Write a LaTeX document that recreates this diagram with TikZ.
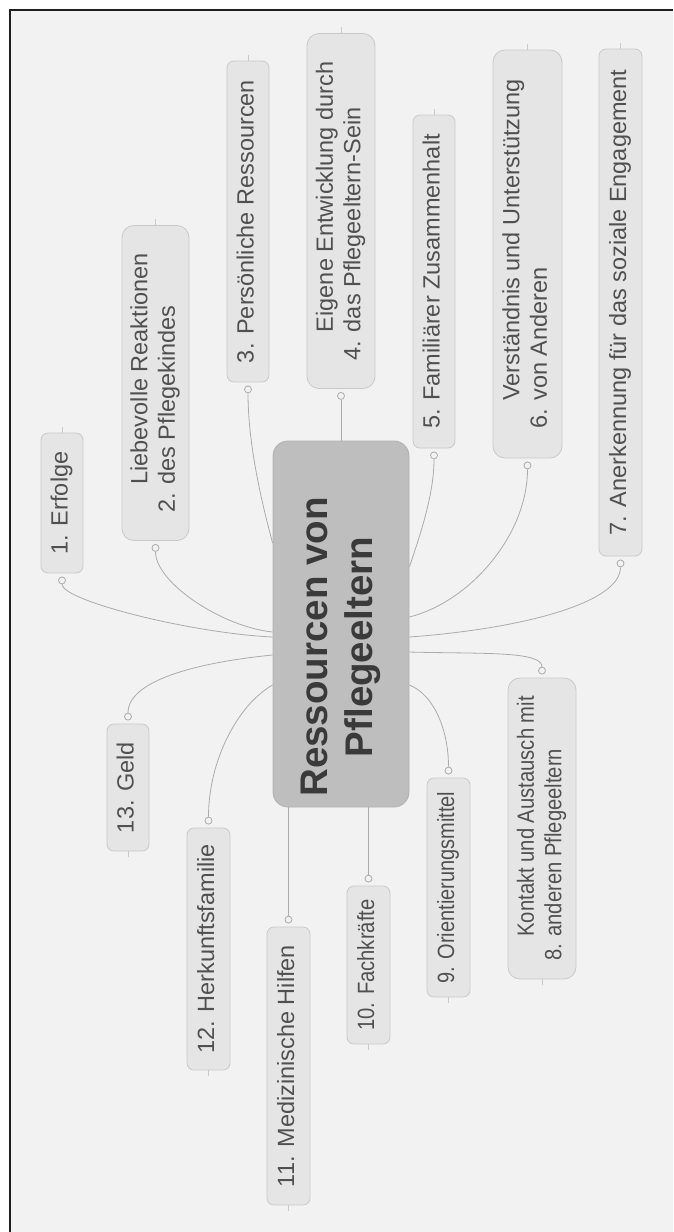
\documentclass[tikz,border=0pt]{standalone}
\usepackage{fontspec}
\setmainfont{Liberation Sans}
\usepackage{graphicx}
\usetikzlibrary{calc}

\definecolor{pagebg}{HTML}{F2F2F2}
\definecolor{leaffill}{HTML}{E5E5E5}
\definecolor{leafline}{HTML}{C9C9C9}
\definecolor{hubfill}{HTML}{BEBEBE}
\definecolor{hubline}{HTML}{B0B0B0}
\definecolor{linkgray}{HTML}{ABABAB}
\definecolor{leaftext}{HTML}{505050}
\definecolor{hubtext}{HTML}{3A3A3A}

% text set upright, reading from bottom to top (optional horizontal squeeze)
\newcommand{\turnedlabel}[2][1]{\rotatebox{90}{\scalebox{#1}[1]{\begin{tabular}{@{}c@{}}#2\end{tabular}}}}
% two-line label whose second line carries a hanging number
\newcommand{\turnedhang}[4][1]{\rotatebox{90}{\scalebox{#1}[1]{\begin{tabular}{@{}l@{}}\hphantom{#3 }#2\\#3 #4\end{tabular}}}}

\pgfdeclarelayer{paper}
\pgfdeclarelayer{links}
\pgfsetlayers{paper,links,main}

\tikzset{
  leaf/.style={draw=leafline, fill=leaffill, line width=0.8pt, rounded corners=7pt,
    inner sep=0pt, text=leaftext, font=\fontsize{23.5}{27.5}\selectfont},
  leafwide/.style={leaf, rounded corners=12pt},
  hub/.style={draw=hubline, fill=hubfill, line width=0.8pt, rounded corners=15pt,
    inner sep=0pt, text=hubtext, font=\fontsize{38.5}{45}\selectfont\bfseries,
    minimum width=136pt, minimum height=366pt},
  dot/.style={circle, draw=linkgray, fill=pagebg, line width=0.8pt,
    minimum size=7pt, inner sep=0pt},
  link/.style={draw=linkgray, line width=0.8pt},
  tick/.style={draw=leafline, line width=0.6pt}
}

\begin{document}
\begin{tikzpicture}[x=1pt, y=-1pt]
\useasboundingbox (0,0) rectangle (673,1232);

% paper and frame
\begin{pgfonlayer}{paper}
  \fill[white] (0,0) rectangle (673,1232);
  \fill[pagebg] (9.5,9.5) rectangle (673,1232);
  \draw[line width=2pt, black!88] (9.5,1232) -- (9.5,9.5) -- (673,9.5);
\end{pgfonlayer}

% central topic
\node[hub] (c) at (341,624) {\turnedlabel{Ressourcen von\hspace*{46pt}\\Pflegeeltern\hspace*{46pt}}};

% branches above the centre
\node[leaf, minimum width=42pt, minimum height=140pt] (n1) at (62,503) {\turnedlabel{1. Erfolge}};
\node[leafwide, minimum width=67pt, minimum height=315pt] (n2) at (155.5,383) {\turnedhang{Liebevolle Reaktionen}{2.}{des Pflegekindes}};
\node[leaf, minimum width=42pt, minimum height=321pt] (n3) at (248,221.5) {\turnedlabel{3. Persönliche Ressourcen}};
\node[leafwide, minimum width=68pt, minimum height=355pt] (n4) at (341,211) {\turnedhang{Eigene Entwicklung durch}{4.}{das Pflegeeltern-Sein}};
\node[leaf, minimum width=42pt, minimum height=333pt] (n5) at (434,281.5) {\turnedlabel{5. Familiärer Zusammenhalt}};
\node[leafwide, minimum width=69pt, minimum height=408pt] (n6) at (527.5,254) {\turnedhang{Verständnis und Unterstützung}{6.}{von Anderen}};
\node[leaf, minimum width=43pt, minimum height=507pt] (n7) at (620.5,302.5) {\turnedlabel{7. Anerkennung für das soziale Engagement}};

% branches below the centre
\node[leafwide, minimum width=68pt, minimum height=301pt] (n8) at (542,828.5) {\turnedhang[0.86]{Kontakt und Austausch mit}{8.}{anderen Pflegeeltern}};
\node[leaf, minimum width=43pt, minimum height=219pt] (n9) at (448.5,887.5) {\turnedlabel[0.85]{9. Orientierungsmittel}};
\node[leaf, minimum width=43pt, minimum height=158pt] (n10) at (368.5,965) {\turnedlabel[0.86]{10. Fachkräfte}};
\node[leaf, minimum width=43pt, minimum height=278pt] (n11) at (288.5,1066) {\turnedlabel{11. Medizinische Hilfen}};
\node[leaf, minimum width=43pt, minimum height=242pt] (n12) at (208.5,949) {\turnedlabel{12. Herkunftsfamilie}};
\node[leaf, minimum width=42pt, minimum height=127pt] (n13) at (128,787.5) {\turnedlabel{13. Geld}};

% attachment handles
\foreach \k in {1,...,7} {
  \node[dot] (d\k) at ([yshift=-7pt]n\k.south) {};
  \draw[tick] (n\k.north) -- ++(0,-6);
}
\foreach \k in {8,...,13} {
  \node[dot] (d\k) at ([yshift=7pt]n\k.north) {};
  \draw[tick] (n\k.south) -- ++(0,6);
}

% connectors
\begin{pgfonlayer}{links}
  \draw[link] ($(c.west)+(0,13)$) .. controls +(-83,-4) and +(0,20) .. (d1);
  \draw[link] ($(c.west)+(0,8)$) .. controls +(-50,-5) and +(0,35) .. (d2);
  \draw[link] ($(c.west)+(0,-81)$) .. controls +(-8,-30) and +(0,60) .. (d3);
  \draw[link] (d4) -- (d4 |- c.north);
  \draw[link] ($(c.east)+(0,-57)$) .. controls +(10,-30) and +(0,40) .. (d5);
  \draw[link] ($(c.east)+(0,-7)$) .. controls +(60,-15) and +(0,70) .. (d6);
  \draw[link] ($(c.east)+(0,13)$) .. controls +(110,-8) and +(0,40) .. (d7);
  \draw[link] ($(c.east)+(0,28)$) .. controls +(70,2) and +(0,-20) .. (d8);
  \draw[link] ($(c.east)+(0,61)$) .. controls +(25,10) and +(0,-40) .. (d9);
  \draw[link] (d10) -- (d10 |- c.south);
  \draw[link] (d11) -- (d11 |- c.south);
  \draw[link] ($(c.west)+(0,61)$) .. controls +(-35,20) and +(0,-60) .. (d12);
  \draw[link] ($(c.west)+(0,31)$) .. controls +(-80,8) and +(0,-35) .. (d13);
\end{pgfonlayer}
\end{tikzpicture}
\end{document}
